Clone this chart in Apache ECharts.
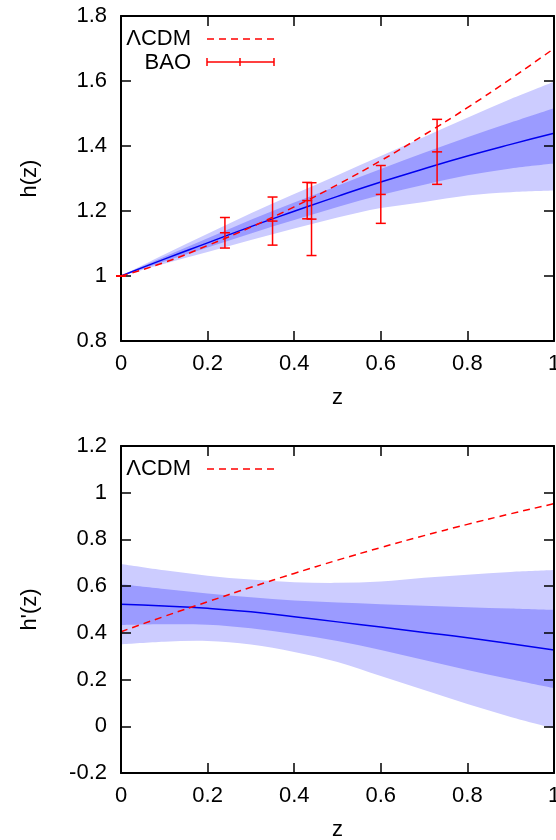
<!DOCTYPE html>
<html>
<head>
<meta charset="utf-8">
<script src="https://cdn.jsdelivr.net/npm/echarts@6/dist/echarts.min.js"></script>
<style>
html,body{margin:0;padding:0;background:#fff;}
#chart{width:556px;height:840px;}
</style>
</head>
<body>
<div id="chart"></div>
<script>
// ---- data ----
const zGrid = [0, 0.1, 0.2, 0.3, 0.4, 0.5, 0.6, 0.7, 0.8, 0.9, 1.0];

// top panel h(z)
const hMean = [1, 1.052, 1.102, 1.152, 1.199, 1.245, 1.289, 1.330, 1.369, 1.405, 1.439];
const hLo1  = [1, 1.045, 1.088, 1.131, 1.172, 1.212, 1.249, 1.281, 1.310, 1.331, 1.346];
const hHi1  = [1, 1.059, 1.116, 1.173, 1.226, 1.278, 1.329, 1.379, 1.427, 1.472, 1.516];
const hLo2  = [1, 1.038, 1.074, 1.111, 1.146, 1.180, 1.209, 1.228, 1.248, 1.258, 1.263];
const hHi2  = [1, 1.066, 1.130, 1.193, 1.252, 1.310, 1.369, 1.428, 1.487, 1.545, 1.598];
const hLCDM = [1, 1.0415, 1.0939, 1.1503, 1.2128, 1.2811, 1.3550, 1.4341, 1.5181, 1.6068, 1.700];

// BAO points
const baoZ   = [0, 0.24, 0.35, 0.43, 0.44, 0.60, 0.73];
const baoH   = [1, 1.133, 1.169, 1.232, 1.175, 1.251, 1.382];
const baoErr = [0, 0.047, 0.074, 0.056, 0.112, 0.089, 0.100];

// bottom panel h'(z)
const dMean = [0.522, 0.515, 0.505, 0.490, 0.469, 0.447, 0.425, 0.402, 0.379, 0.353, 0.327];
const dLo1  = [0.434, 0.437, 0.435, 0.420, 0.395, 0.365, 0.327, 0.284, 0.241, 0.201, 0.163];
const dHi1  = [0.608, 0.588, 0.569, 0.552, 0.538, 0.530, 0.523, 0.516, 0.510, 0.504, 0.498];
const dLo2  = [0.351, 0.362, 0.365, 0.350, 0.318, 0.275, 0.215, 0.155, 0.095, 0.040, -0.009];
const dHi2  = [0.695, 0.668, 0.645, 0.628, 0.617, 0.614, 0.620, 0.636, 0.649, 0.661, 0.669];
const dLCDM = [0.405, 0.4705, 0.5331, 0.5950, 0.6545, 0.7113, 0.7652, 0.8162, 0.8644, 0.9099, 0.953];

// ---- styles ----
const FONT = 'Liberation Sans, Arial, Helvetica, sans-serif';
const FS = 22;
const LIGHT = '#ccccff';
const DARK = '#9b9bff';
const RED = '#ff0000';
const BLUE = '#0000ee';

const pairs = (xs, ys) => xs.map((x, i) => [x, ys[i]]);

// smooth cubic segments through already-projected pixel points
function smoothSegs(pts) {
  let d = '';
  for (let i = 0; i < pts.length - 1; i++) {
    const p0 = pts[i - 1] || pts[i], p1 = pts[i], p2 = pts[i + 1], p3 = pts[i + 2] || pts[i + 1];
    const c1 = [p1[0] + (p2[0] - p0[0]) / 6, p1[1] + (p2[1] - p0[1]) / 6];
    const c2 = [p2[0] - (p3[0] - p1[0]) / 6, p2[1] - (p3[1] - p1[1]) / 6];
    d += ' C' + c1[0] + ' ' + c1[1] + ' ' + c2[0] + ' ' + c2[1] + ' ' + p2[0] + ' ' + p2[1];
  }
  return d;
}

function bandSeries(xi, yi, lo, hi, color, z) {
  return {
    type: 'custom', xAxisIndex: xi, yAxisIndex: yi, z: z, silent: true,
    data: zGrid.map((x, i) => [x, lo[i], hi[i]]),
    encode: { x: 0, y: [1, 2] },
    renderItem: function (params, api) {
      if (params.dataIndex !== 0) return null;
      const top = zGrid.map((x, i) => api.coord([x, hi[i]]));
      const bot = zGrid.map((x, i) => api.coord([x, lo[i]])).reverse();
      const d = 'M' + top[0][0] + ' ' + top[0][1] + smoothSegs(top) +
                ' L' + bot[0][0] + ' ' + bot[0][1] + smoothSegs(bot) + ' Z';
      return { type: 'path', shape: { pathData: d }, style: { fill: color, stroke: null } };
    }
  };
}

function lineSeries(xi, yi, ys, color, dashed, z) {
  return {
    type: 'line', xAxisIndex: xi, yAxisIndex: yi, z: z, silent: true,
    data: pairs(zGrid, ys), smooth: true, showSymbol: false, symbol: 'none',
    lineStyle: { color: color, width: 1.5, type: dashed ? [7, 5] : 'solid' }
  };
}

const errSeries = {
  type: 'custom', xAxisIndex: 0, yAxisIndex: 0, z: 10, silent: true,
  data: baoZ.map((x, i) => [x, baoH[i], baoErr[i]]),
  encode: { x: 0, y: 1 },
  renderItem: function (params, api) {
    const x = api.value(0), y = api.value(1), e = api.value(2);
    const pc = api.coord([x, y]);
    const pt = api.coord([x, y + e]);
    const pb = api.coord([x, y - e]);
    const hw = 5;
    const st = { stroke: RED, lineWidth: 1.5 };
    const children = [
      { type: 'line', shape: { x1: pt[0], y1: pt[1], x2: pb[0], y2: pb[1] }, style: st },
      { type: 'line', shape: { x1: pt[0] - hw, y1: pt[1], x2: pt[0] + hw, y2: pt[1] }, style: st },
      { type: 'line', shape: { x1: pb[0] - hw, y1: pb[1], x2: pb[0] + hw, y2: pb[1] }, style: st },
      { type: 'line', shape: { x1: pc[0] - hw, y1: pc[1], x2: pc[0] + hw, y2: pc[1] }, style: st }
    ];
    return { type: 'group', children: children };
  }
};

const axisLine = { show: true, onZero: false, lineStyle: { color: '#000', width: 2 } };
const axisTick = { show: true, inside: true, length: 10, lineStyle: { color: '#000', width: 1.5 } };
const labelStyle = { color: '#000', fontSize: FS, fontFamily: FONT };

function xAxes(gi) {
  return [
    { type: 'value', gridIndex: gi, position: 'bottom', min: 0, max: 1, interval: 0.2, z: 5,
      axisLine: axisLine, axisTick: axisTick, splitLine: { show: false },
      axisLabel: Object.assign({ margin: 12, hideOverlap: false }, labelStyle),
      name: 'z', nameLocation: 'middle', nameGap: 46, nameTextStyle: labelStyle },
    { type: 'value', gridIndex: gi, position: 'top', min: 0, max: 1, interval: 0.2, z: 5,
      axisLine: axisLine, axisTick: axisTick, splitLine: { show: false }, axisLabel: { show: false } }
  ];
}
function yAxes(gi, mn, mx, nm) {
  return [
    { type: 'value', gridIndex: gi, position: 'left', min: mn, max: mx, interval: 0.2, z: 5,
      axisLine: axisLine, axisTick: axisTick, splitLine: { show: false },
      axisLabel: Object.assign({ margin: 14 }, labelStyle),
      name: nm, nameLocation: 'middle', nameGap: 80, nameTextStyle: labelStyle },
    { type: 'value', gridIndex: gi, position: 'right', min: mn, max: mx, interval: 0.2, z: 5,
      axisLine: axisLine, axisTick: axisTick, splitLine: { show: false }, axisLabel: { show: false } }
  ];
}

// legend drawn as graphic
const legTxt = { fill: '#000', fontSize: FS, fontFamily: FONT, textAlign: 'right', textVerticalAlign: 'middle' };
const dashSt = { stroke: RED, lineWidth: 1.5, lineDash: [7, 5] };
const solSt = { stroke: RED, lineWidth: 1.5 };
const graphics = [
  { type: 'text', x: 191, y: 39, style: Object.assign({ text: 'ΛCDM' }, legTxt), z: 20 },
  { type: 'line', shape: { x1: 207, y1: 39, x2: 275, y2: 39 }, style: dashSt, z: 20 },
  { type: 'text', x: 191, y: 63, style: Object.assign({ text: 'BAO' }, legTxt), z: 20 },
  { type: 'line', shape: { x1: 207, y1: 62, x2: 274, y2: 62 }, style: solSt, z: 20 },
  { type: 'line', shape: { x1: 207, y1: 58, x2: 207, y2: 66 }, style: solSt, z: 20 },
  { type: 'line', shape: { x1: 240, y1: 58, x2: 240, y2: 66 }, style: solSt, z: 20 },
  { type: 'line', shape: { x1: 274, y1: 58, x2: 274, y2: 66 }, style: solSt, z: 20 },
  { type: 'text', x: 191, y: 469, style: Object.assign({ text: 'ΛCDM' }, legTxt), z: 20 },
  { type: 'line', shape: { x1: 207, y1: 469, x2: 275, y2: 469 }, style: dashSt, z: 20 }
];

const chart = echarts.init(document.getElementById('chart'), null, { renderer: 'canvas' });
chart.setOption({
  animation: false,
  backgroundColor: '#fff',
  textStyle: { fontFamily: FONT },
  grid: [
    { left: 121, top: 16, width: 433, height: 325, containLabel: false, outerBoundsMode: 'none' },
    { left: 121, top: 446, width: 433, height: 327, containLabel: false, outerBoundsMode: 'none' }
  ],
  xAxis: xAxes(0).concat(xAxes(1)),
  yAxis: yAxes(0, 0.8, 1.8, 'h(z)').concat(yAxes(1, -0.2, 1.2, "h'(z)")),
  graphic: graphics,
  series: [
    bandSeries(0, 0, hLo2, hHi2, LIGHT, 1),
    bandSeries(0, 0, hLo1, hHi1, DARK, 2),
    lineSeries(0, 0, hMean, BLUE, false, 3),
    lineSeries(0, 0, hLCDM, RED, true, 4),
    errSeries,
    bandSeries(2, 2, dLo2, dHi2, LIGHT, 1),
    bandSeries(2, 2, dLo1, dHi1, DARK, 2),
    lineSeries(2, 2, dMean, BLUE, false, 3),
    lineSeries(2, 2, dLCDM, RED, true, 4)
  ]
});
</script>
</body>
</html>
